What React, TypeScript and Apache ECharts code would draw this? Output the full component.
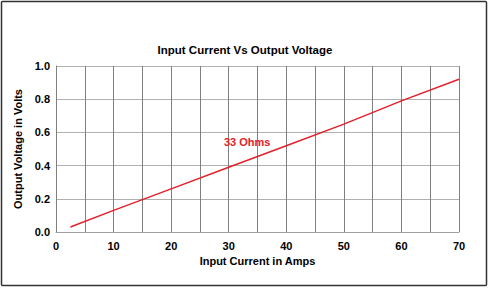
import React, { useEffect, useRef } from "react";
import * as echarts from "echarts";

const titleText = "Input Current Vs Output Voltage";
const xAxisTitle = "Input Current in Amps";
const yAxisTitle = "Output Voltage in Volts";
const seriesName = "33 Ohms";
const currents = [2.5, 10, 20, 30, 40, 50, 60, 70];
const voltages = [0.03, 0.13, 0.26, 0.39, 0.52, 0.65, 0.79, 0.92];
const labelCoord = [33.2, 0.54];

const FONT = "'Liberation Sans', Arial, sans-serif";

export default function App() {
  const ref = useRef<HTMLDivElement>(null);
  useEffect(() => {
    if (!ref.current) return;
    const chart = echarts.init(ref.current, undefined, { renderer: "svg" });
    chart.setOption({
      animation: false,
      backgroundColor: "#ffffff",
      title: {
        text: titleText,
        left: "center",
        top: 39,
        textStyle: { fontFamily: FONT, fontSize: 11.5, fontWeight: "bold", color: "#000" },
      },
      graphic: [
        {
          type: "rect",
          shape: { x: 1.5, y: 1.5, width: 485, height: 284, r: 1 },
          style: { fill: "none", stroke: "#333", lineWidth: 1.5 },
          silent: true,
        },
      ],
      grid: { left: 56, top: 66, right: 31, bottom: 56, containLabel: false },
      xAxis: {
        type: "value",
        min: 0,
        max: 70,
        interval: 5,
        name: xAxisTitle,
        nameLocation: "middle",
        nameGap: 23,
        nameTextStyle: { fontFamily: FONT, fontSize: 11, fontWeight: "bold", color: "#000" },
        axisLine: { show: true, lineStyle: { color: "#a0a0a0", width: 1 } },
        axisTick: { show: false },
        axisLabel: {
          margin: 8,
          fontFamily: FONT,
          fontSize: 11,
          fontWeight: "bold",
          color: "#000",
          formatter: (v: number) => (v % 10 === 0 ? String(v) : ""),
        },
        splitLine: { show: true, lineStyle: { color: "#808080", width: 1 } },
      },
      yAxis: {
        type: "value",
        min: 0,
        max: 1,
        interval: 0.2,
        name: yAxisTitle,
        nameLocation: "middle",
        nameGap: 31,
        nameTextStyle: { fontFamily: FONT, fontSize: 11, fontWeight: "bold", color: "#000" },
        axisLine: { show: true, lineStyle: { color: "#808080", width: 1 } },
        axisTick: { show: false },
        axisLabel: {
          margin: 6,
          fontFamily: FONT,
          fontSize: 11,
          fontWeight: "bold",
          color: "#000",
          formatter: (v: number) => v.toFixed(1),
        },
        splitLine: { show: true, lineStyle: { color: "#b0b0b0", width: 1 } },
      },
      series: [
        {
          name: seriesName,
          type: "line",
          data: currents.map((c, i) => [c, voltages[i]]),
          showSymbol: false,
          symbol: "none",
          lineStyle: { color: "#e3202b", width: 1.5 },
          markPoint: {
            symbol: "circle",
            symbolSize: 0,
            data: [{ coord: labelCoord, value: seriesName }],
            label: {
              show: true,
              position: "inside",
              formatter: seriesName,
              fontFamily: FONT,
              fontSize: 11,
              fontWeight: "bold",
              color: "#e3202b",
            },
          },
        },
      ],
    });
    return () => chart.dispose();
  }, []);
  return (
    <div
      ref={ref}
      style={{ position: "fixed", left: 0, top: 0, width: 490, height: 288, background: "#fff" }}
    />
  );
}
